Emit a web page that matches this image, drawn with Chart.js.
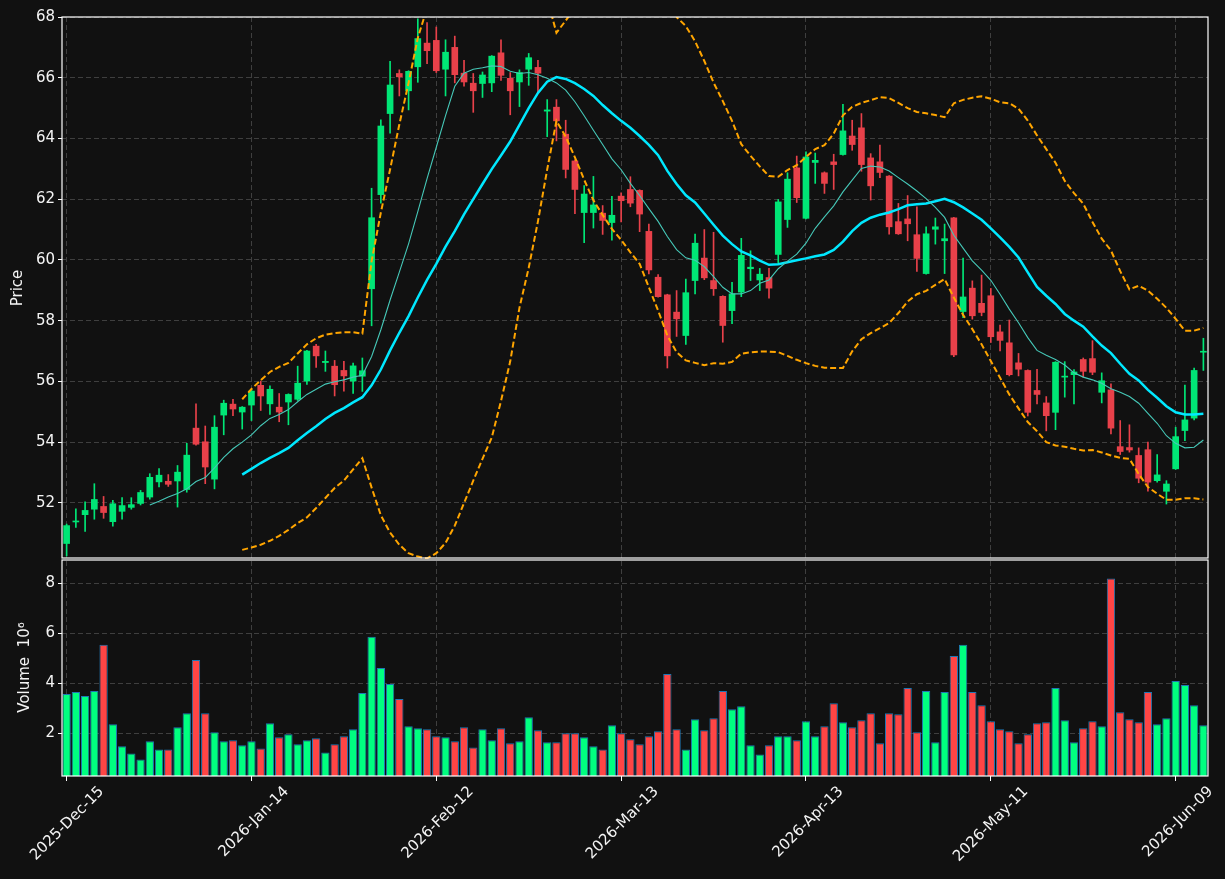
<!DOCTYPE html>
<html>
<head>
<meta charset="utf-8">
<script src="https://cdn.jsdelivr.net/npm/chart.js@4.4.1/dist/chart.umd.min.js"></script>
<style>
  html, body { margin: 0; padding: 0; background: #111111; }
  #wrap { width: 1225px; height: 879px; }
</style>
</head>
<body>
<div id="wrap"><canvas id="priceChart" width="1225" height="879"></canvas></div>
<script>
// ------------------------------
// DATA
// ------------------------------
const tradingDays = [
  ["2025", "Dec", [15,16,17,18,19,22,23,24,26,29,30,31]],
  ["2026", "Jan", [2,5,6,7,8,9,12,13,14,15,16,20,21,22,23,26,27,28,29,30]],
  ["2026", "Feb", [2,3,4,5,6,9,10,11,12,13,17,18,19,20,23,24,25,26,27]],
  ["2026", "Mar", [2,3,4,5,6,9,10,11,12,13,16,17,18,19,20,23,24,25,26,27,30,31]],
  ["2026", "Apr", [1,2,6,7,8,9,10,13,14,15,16,17,20,21,22,23,24,27,28,29,30]],
  ["2026", "May", [1,4,5,6,7,8,11,12,13,14,15,18,19,20,21,22,26,27,28,29]],
  ["2026", "Jun", [1,2,3,4,5,8,9,10,11,12]]
];
const dates = [];
tradingDays.forEach(([y, m, days]) => {
  days.forEach(d => dates.push(`${y}-${m}-${String(d).padStart(2, "0")}`));
});

const tickLabels = ["2025-Dec-15", "2026-Jan-14", "2026-Feb-12", "2026-Mar-13", "2026-Apr-13", "2026-May-11", "2026-Jun-09"];
const priceTicks = [52, 54, 56, 58, 60, 62, 64, 66, 68];
const volumeTicks = [2, 4, 6, 8];

const opens = [50.66,51.37,51.61,51.79,51.88,51.38,51.72,51.85,51.98,52.19,
  52.69,52.71,52.72,52.44,54.46,54.01,52.78,54.89,55.25,54.99,
  55.22,55.87,55.26,55.15,55.32,55.41,56.01,57.16,56.62,56.50,
  56.36,56.01,56.17,59.05,62.15,64.82,66.14,65.57,66.36,67.14,
  67.23,66.28,67.00,66.15,65.82,65.81,65.83,66.82,65.98,65.86,
  66.28,66.34,64.90,65.03,64.14,63.26,61.56,61.56,61.54,61.23,
  62.10,62.32,62.29,60.94,59.43,58.85,58.28,57.51,59.32,60.06,
  59.32,58.80,58.33,58.94,59.71,59.34,59.42,60.18,61.33,63.03,
  61.37,63.21,62.87,63.23,63.47,64.08,64.35,63.36,63.23,62.76,
  61.26,61.35,60.83,59.55,61.01,60.63,61.39,58.30,59.07,58.57,
  58.82,57.63,57.27,56.61,56.36,55.70,55.29,54.98,56.14,56.22,
  56.72,56.75,55.64,55.72,53.85,53.82,53.56,53.75,52.73,52.38,
  53.12,54.38,54.79,56.96];

const highs = [51.30,51.80,52.03,52.63,52.21,52.08,52.17,52.17,52.41,52.96,
  53.13,52.93,53.23,53.96,55.26,54.53,54.87,55.38,55.41,55.17,
  55.74,56.01,55.85,55.60,55.59,56.50,57.02,57.22,57.00,56.69,
  56.66,56.60,56.77,62.36,64.61,66.54,66.26,66.23,67.94,67.82,
  67.67,67.25,67.37,66.57,66.14,66.19,66.73,67.25,66.17,66.26,
  66.80,66.57,65.28,65.28,64.60,63.30,62.45,62.75,61.79,62.09,
  62.21,62.74,62.31,61.18,59.52,58.87,58.99,59.37,60.85,61.00,
  60.91,58.82,59.26,60.71,60.30,59.72,59.72,61.99,62.87,63.42,
  63.56,63.52,62.90,63.48,65.12,64.60,64.82,63.50,63.78,62.78,
  61.86,62.12,61.75,61.09,61.38,61.18,61.40,60.06,59.31,59.50,
  59.06,57.85,58.02,56.92,56.38,56.40,55.50,56.65,56.65,56.39,
  56.77,57.34,56.28,55.92,54.71,54.57,53.81,54.00,53.59,52.73,
  54.49,55.88,56.44,57.42];

const lows = [50.25,51.19,51.06,51.46,51.49,51.23,51.46,51.79,51.93,52.12,
  52.52,52.54,51.86,52.35,53.90,52.63,52.46,54.24,54.87,54.43,
  54.71,55.04,54.91,54.67,54.57,55.37,55.90,56.46,56.33,55.52,
  55.68,55.60,55.67,57.83,61.87,64.17,65.40,64.94,65.85,66.46,
  66.17,65.40,65.83,65.72,64.86,65.35,65.54,65.91,64.78,65.05,
  65.75,65.51,64.06,63.92,62.70,61.52,60.57,61.05,60.84,60.65,
  61.25,61.75,60.93,59.54,58.77,56.44,57.48,57.22,58.88,59.35,
  58.83,57.29,57.90,58.79,59.32,58.99,58.74,59.89,61.07,61.89,
  61.35,62.52,62.19,62.32,63.45,63.61,62.92,61.97,62.71,60.85,
  60.84,60.63,59.62,59.53,60.52,59.55,56.81,58.10,58.05,58.16,
  57.28,57.00,56.18,56.18,54.86,55.26,54.37,54.41,55.48,55.26,
  56.14,56.22,55.29,54.27,53.59,53.67,52.66,52.38,52.68,51.96,
  53.10,54.05,54.73,56.36];

const closes = [51.25,51.40,51.75,52.11,51.68,51.97,51.91,51.94,52.34,52.84,
  52.91,52.61,53.01,53.57,53.93,53.18,54.49,55.28,55.09,55.15,
  55.68,55.52,55.74,54.99,55.57,55.94,57.00,56.84,56.66,55.89,
  56.18,56.51,56.35,61.39,64.41,65.76,66.03,66.21,67.29,66.89,
  66.23,66.84,66.10,65.86,65.57,66.09,66.71,66.08,65.57,66.17,
  66.66,66.15,64.94,64.58,62.98,62.32,62.17,61.81,61.30,61.47,
  61.95,61.87,61.51,59.67,58.79,56.84,58.06,58.92,60.55,59.41,
  59.05,57.84,58.88,60.15,59.76,59.53,59.07,61.91,62.66,62.05,
  63.39,63.28,62.52,63.14,64.25,63.80,63.14,62.44,62.88,61.09,
  60.86,61.19,60.05,60.86,61.09,60.70,56.87,58.78,58.16,58.27,
  57.47,57.35,56.22,56.40,54.98,55.57,54.87,56.63,56.17,56.31,
  56.33,56.30,56.02,54.46,53.69,53.74,52.81,52.68,52.92,52.62,
  54.18,54.73,56.36,56.99];

// volume, millions
const volumes = [3.58,3.66,3.50,3.70,5.55,2.37,1.49,1.20,0.96,1.69,
  1.36,1.36,2.25,2.81,4.94,2.81,2.05,1.69,1.73,1.53,
  1.69,1.40,2.41,1.85,1.97,1.57,1.73,1.81,1.24,1.57,
  1.89,2.17,3.62,5.87,4.62,3.98,3.38,2.29,2.21,2.17,
  1.89,1.85,1.69,2.25,1.44,2.17,1.73,2.21,1.61,1.69,
  2.65,2.13,1.65,1.65,2.01,2.01,1.85,1.49,1.36,2.33,
  2.01,1.77,1.57,1.89,2.09,4.38,2.17,1.36,2.57,2.13,
  2.61,3.70,2.97,3.09,1.53,1.16,1.53,1.89,1.89,1.73,
  2.49,1.89,2.29,3.21,2.45,2.25,2.53,2.81,1.61,2.81,
  2.77,3.82,2.05,3.70,1.65,3.66,5.10,5.55,3.66,3.13,
  2.49,2.17,2.09,1.61,1.97,2.41,2.45,3.82,2.53,1.65,
  2.21,2.49,2.29,8.20,2.85,2.57,2.45,3.66,2.37,2.61,
  4.10,3.94,3.13,2.33];

const ma10 = [null,null,null,null,null,null,null,null,null,
  51.93,52.05,52.19,52.31,52.46,52.70,52.83,53.15,53.50,53.78,
  54.00,54.24,54.54,54.78,54.91,55.07,55.33,55.57,55.74,55.91,
  55.99,56.05,56.14,56.20,56.82,57.70,58.68,59.60,60.53,61.59,
  62.68,63.71,64.75,65.72,66.15,66.28,66.33,66.39,66.37,66.21,
  66.14,66.17,66.10,65.98,65.83,65.59,65.21,64.75,64.27,63.80,
  63.33,62.97,62.52,62.12,61.69,61.27,60.77,60.34,60.07,59.99,
  59.78,59.45,59.10,58.88,58.88,58.99,59.23,59.34,59.71,59.96,
  60.19,60.55,61.04,61.42,61.78,62.24,62.63,63.01,63.09,63.06,
  62.93,62.71,62.50,62.27,62.02,61.73,61.40,60.81,60.39,59.97,
  59.66,59.33,58.87,58.38,57.93,57.44,57.02,56.86,56.72,56.54,
  56.28,56.14,56.05,55.94,55.76,55.64,55.50,55.28,54.95,54.62,
  54.21,53.96,53.81,53.83,54.07];

const ma20 = [null,null,null,null,null,null,null,null,null,null,
  null,null,null,null,null,null,null,null,null,
  52.93,53.12,53.31,53.48,53.64,53.81,54.06,54.30,54.52,54.76,
  54.96,55.12,55.31,55.48,55.87,56.39,57.02,57.60,58.15,58.76,
  59.34,59.87,60.44,60.95,61.50,62.00,62.50,62.99,63.44,63.90,
  64.45,65.00,65.50,65.87,66.02,65.96,65.82,65.63,65.40,65.10,
  64.83,64.58,64.35,64.08,63.79,63.45,62.93,62.50,62.13,61.89,
  61.53,61.16,60.80,60.52,60.28,60.15,59.98,59.84,59.86,59.92,
  59.99,60.05,60.12,60.18,60.33,60.60,60.95,61.22,61.39,61.49,
  61.56,61.67,61.80,61.83,61.86,61.93,62.01,61.90,61.73,61.53,
  61.32,61.04,60.74,60.43,60.08,59.59,59.11,58.82,58.55,58.22,
  58.00,57.80,57.48,57.18,56.93,56.58,56.25,56.03,55.72,55.46,
  55.18,54.98,54.91,54.91,54.93];

const bbUpper = [null,null,null,null,null,null,null,null,null,null,
  null,null,null,null,null,null,null,null,null,
  55.41,55.75,56.04,56.31,56.48,56.61,56.92,57.22,57.42,57.54,
  57.59,57.62,57.62,57.57,59.96,61.56,62.98,64.46,65.83,67.31,
  68.30,69.16,69.94,70.41,70.77,71.17,71.55,71.89,71.53,71.18,
  70.61,70.44,69.97,68.60,67.48,67.88,68.30,68.70,68.90,68.80,
  68.70,68.50,68.40,68.30,68.50,68.60,68.35,68.00,67.70,67.20,
  66.55,65.84,65.23,64.58,63.81,63.43,63.08,62.76,62.74,62.96,
  63.12,63.39,63.65,63.78,64.16,64.76,65.04,65.17,65.26,65.36,
  65.33,65.17,65.00,64.87,64.83,64.77,64.70,65.16,65.27,65.34,
  65.39,65.31,65.19,65.16,64.98,64.59,64.10,63.65,63.20,62.60,
  62.20,61.85,61.25,60.70,60.31,59.63,59.03,59.15,58.99,58.72,
  58.42,58.06,57.67,57.67,57.76];

const bbLower = [null,null,null,null,null,null,null,null,null,null,
  null,null,null,null,null,null,null,null,null,
  50.45,50.53,50.62,50.75,50.91,51.11,51.33,51.52,51.83,52.16,
  52.49,52.73,53.10,53.47,52.50,51.59,51.02,50.62,50.34,50.23,
  50.17,50.34,50.68,51.25,51.99,52.73,53.45,54.15,55.35,56.66,
  58.43,59.74,61.27,62.98,64.58,64.06,63.38,62.64,61.96,61.48,
  61.02,60.66,60.25,59.87,59.10,58.33,57.51,56.96,56.69,56.61,
  56.53,56.60,56.58,56.64,56.91,56.96,56.98,56.98,56.96,56.84,
  56.71,56.60,56.51,56.45,56.44,56.44,56.99,57.39,57.59,57.75,
  57.92,58.25,58.63,58.87,58.98,59.18,59.37,58.76,58.19,57.72,
  57.22,56.67,56.12,55.57,55.11,54.66,54.36,54.00,53.89,53.85,
  53.78,53.72,53.74,53.66,53.56,53.48,53.45,52.95,52.52,52.30,
  52.10,52.10,52.15,52.15,52.11];

// ------------------------------
// STYLE
// ------------------------------
const UP = "#00e676";
const DOWN = "#e8414a";
const VOL_UP = "#00ff80";
const VOL_DOWN = "#ff4545";
const GRID = "#3f3f3f";
const TEXT = "#f4f4f4";
const FONT = { family: "DejaVu Sans", size: 15 };

Chart.defaults.font.family = FONT.family;
Chart.defaults.font.size = FONT.size;
Chart.defaults.color = TEXT;

const isUp = closes.map((c, i) => c >= opens[i]);
const candleColors = isUp.map(u => (u ? UP : DOWN));
const volumeColors = isUp.map(u => (u ? VOL_UP : VOL_DOWN));
const showTick = i => tickLabels.includes(dates[i]);

// white frame round each panel
const panelFrames = {
  id: "panelFrames",
  afterDraw(chart) {
    const { ctx, chartArea, scales } = chart;
    const w = chartArea.right - chartArea.left;
    ctx.save();
    ctx.strokeStyle = "#ffffff";
    ctx.lineWidth = 1.2;
    ctx.strokeRect(chartArea.left, scales.y.top, w, scales.y.bottom - scales.y.top - 1);
    ctx.strokeRect(chartArea.left, scales.yVol.top + 1, w, scales.yVol.bottom - scales.yVol.top - 1);
    ctx.restore();
  }
};

const lineStyle = { type: "line", pointRadius: 0, tension: 0, yAxisID: "y", fill: false };

// ------------------------------
// CHART
// ------------------------------
new Chart(document.getElementById("priceChart"), {
  type: "bar",
  data: {
    labels: dates,
    datasets: [
      { ...lineStyle, label: "MA10", data: ma10, borderColor: "#46c8b8", borderWidth: 1.1 },
      { ...lineStyle, label: "MA20", data: ma20, borderColor: "#00e8ff", borderWidth: 2.5 },
      { ...lineStyle, label: "BB upper", data: bbUpper, borderColor: "#ffa500", borderWidth: 2, borderDash: [6, 3] },
      { ...lineStyle, label: "BB lower", data: bbLower, borderColor: "#ffa500", borderWidth: 2, borderDash: [6, 3] },
      {
        label: "wick",
        data: lows.map((l, i) => [l, highs[i]]),
        backgroundColor: candleColors,
        barThickness: 1,
        grouped: false,
        yAxisID: "y"
      },
      {
        label: "body",
        data: opens.map((o, i) => [o, closes[i]]),
        backgroundColor: candleColors,
        barThickness: 6,
        minBarLength: 1,
        grouped: false,
        yAxisID: "y"
      },
      {
        label: "Volume",
        data: volumes,
        backgroundColor: volumeColors,
        borderColor: "#1f77b4",
        borderWidth: 1,
        barPercentage: 0.9,
        categoryPercentage: 1,
        grouped: false,
        yAxisID: "yVol"
      }
    ]
  },
  options: {
    responsive: false,
    animation: false,
    layout: { padding: { top: 17, right: 17, left: 0, bottom: 0 } },
    plugins: {
      legend: { display: false },
      tooltip: { enabled: false }
    },
    scales: {
      x: {
        type: "category",
        offset: true,
        grid: {
          offset: false,
          color: c => (showTick(c.index) ? GRID : "transparent"),
          tickColor: c => (showTick(c.index) ? "#ffffff" : "transparent"),
          tickLength: 5
        },
        border: { display: false, dash: [5, 3] },
        ticks: {
          autoSkip: false,
          minRotation: 45,
          maxRotation: 45,
          labelOffset: 35,
          padding: 2,
          color: TEXT,
          font: FONT,
          callback: (v, i) => (showTick(i) ? dates[i] : "")
        },
        afterFit: s => {
          s.height = 103;
          s.paddingLeft = 0;
          s.paddingRight = 0;
        }
      },
      y: {
        position: "left",
        stack: "panes",
        stackWeight: 542,
        weight: 1,
        min: 50.15,
        max: 68,
        afterBuildTicks: s => { s.ticks = priceTicks.map(v => ({ value: v })); },
        grid: { color: GRID, tickColor: "#ffffff", tickLength: 4 },
        border: { display: false, dash: [5, 3] },
        ticks: { color: TEXT, font: FONT, padding: 3 },
        title: { display: true, text: "Price", color: TEXT, font: FONT, padding: { top: 9, bottom: 0 } },
        afterFit: s => { s.width = 62; }
      },
      yVol: {
        position: "left",
        stack: "panes",
        stackWeight: 217,
        weight: 0,
        min: 0.3,
        max: 8.98,
        afterBuildTicks: s => { s.ticks = volumeTicks.map(v => ({ value: v })); },
        grid: { color: GRID, tickColor: "#ffffff", tickLength: 4 },
        border: { display: false, dash: [5, 3] },
        ticks: { color: TEXT, font: FONT, padding: 3 },
        title: { display: true, text: "Volume  10⁶", color: TEXT, font: FONT, padding: { top: 16, bottom: 0 } },
        afterFit: s => { s.width = 62; }
      }
    }
  },
  plugins: [panelFrames]
});
</script>
</body>
</html>
